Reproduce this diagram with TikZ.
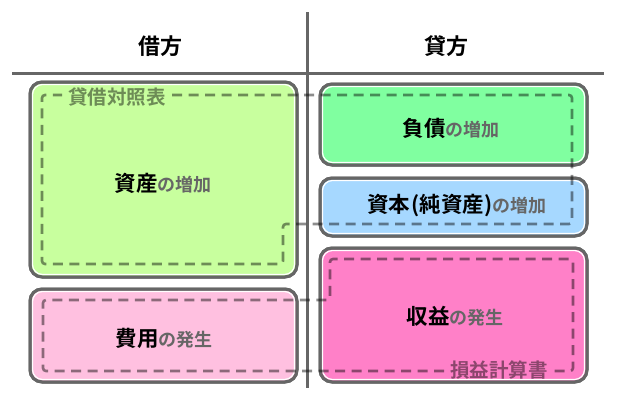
\documentclass[tikz,border=0pt]{standalone}
\usepackage{fontspec}
\setmainfont{Noto Sans CJK JP}[BoldFont={Noto Sans CJK JP Bold}]
\definecolor{bordc}{HTML}{666666}
\definecolor{subc}{HTML}{666666}
\definecolor{cAsset}{HTML}{C8FF9E}
\definecolor{cLiab}{HTML}{80FFA0}
\definecolor{cEquity}{HTML}{A6D8FF}
\definecolor{cExpense}{HTML}{FFC0E0}
\definecolor{cRevenue}{HTML}{FF80C8}
\tikzset{
  acbox/.style={draw=bordc, line width=3pt, rounded corners=12pt},
  inhl/.style={draw=white, line width=1.2pt, rounded corners=10pt},
  axis/.style={draw=bordc, line width=3pt},
  dashline/.style={draw=black, draw opacity=0.45, line width=2.6pt, dash pattern=on 10pt off 6.5pt, rounded corners=3pt},
  head/.style={font=\bfseries\fontsize{22}{25}\selectfont, inner sep=0pt},
  lbl/.style={font=\bfseries\fontsize{21.5}{25}\selectfont, inner sep=0pt},
  frameLbl/.style={font=\bfseries\fontsize{19.5}{22}\selectfont, text=black, text opacity=0.45, inner sep=0pt},
}
\newcommand{\subtxt}[1]{{\color{subc}\fontsize{18}{21}\selectfont #1}}
\begin{document}
\begin{tikzpicture}[x=1pt, y=-1pt]
\useasboundingbox (0,0) rectangle (617,400);
% boxes
\path[fill=cAsset, acbox] (30,82) rectangle (297,277);
\draw[inhl] (32.5,84.5) rectangle (294.5,274.5);
\draw[acbox] (30,82) rectangle (297,277);

\path[fill=cLiab, acbox] (320,84) rectangle (587,165);
\draw[inhl] (322.5,86.5) rectangle (584.5,162.5);
\draw[acbox] (320,84) rectangle (587,165);

\path[fill=cEquity, acbox] (320,178) rectangle (587,236);
\draw[inhl] (322.5,180.5) rectangle (584.5,233.5);
\draw[acbox] (320,178) rectangle (587,236);

\path[fill=cExpense, acbox] (30,289) rectangle (297,382);
\draw[inhl] (32.5,291.5) rectangle (294.5,379.5);
\draw[acbox] (30,289) rectangle (297,382);

\path[fill=cRevenue, acbox] (320,248) rectangle (587,382);
\draw[inhl] (322.5,250.5) rectangle (584.5,379.5);
\draw[acbox] (320,248) rectangle (587,382);

% T-account lines
\coordinate (hL) at (12,73);
\coordinate (hR) at (604,73);
\coordinate (vT) at (307,12);
\coordinate (vB) at (307,388);
\draw[axis] (hL) -- (hR);
\draw[axis] (vT) -- (vB);

% headers
\node[head] (debit) at (160,46) {借方};
\node[head] (credit) at (446,46) {貸方};

% labels
\node[lbl] (asset) at (163,183) {資産\subtxt{の増加}};
\node[lbl] (liab) at (451,128) {負債\subtxt{の増加}};
\node[lbl] (equity) at (457,206) {資本\hspace{1.5pt}(純資産)\subtxt{の増加}};
\node[lbl] (expense) at (164,338) {費用\subtxt{の発生}};
\node[lbl] (revenue) at (455,316) {収益\subtxt{の発生}};

% balance sheet frame
\node[frameLbl, anchor=west] (bs) at (68,97) {貸借対照表};
\draw[dashline] (172,95) -- (572,95) -- (572,224) -- (283,224) -- (283,264) -- (42,264) -- (42,95) -- (62,95);
% income statement frame
\node[frameLbl, anchor=east] (pl) at (548,370) {損益計算書};
\draw[dashline] (444,371) -- (43,371) -- (43,300) -- (330,300) -- (330,259) -- (573,259) -- (573,371) -- (552,371);
\end{tikzpicture}
\end{document}
